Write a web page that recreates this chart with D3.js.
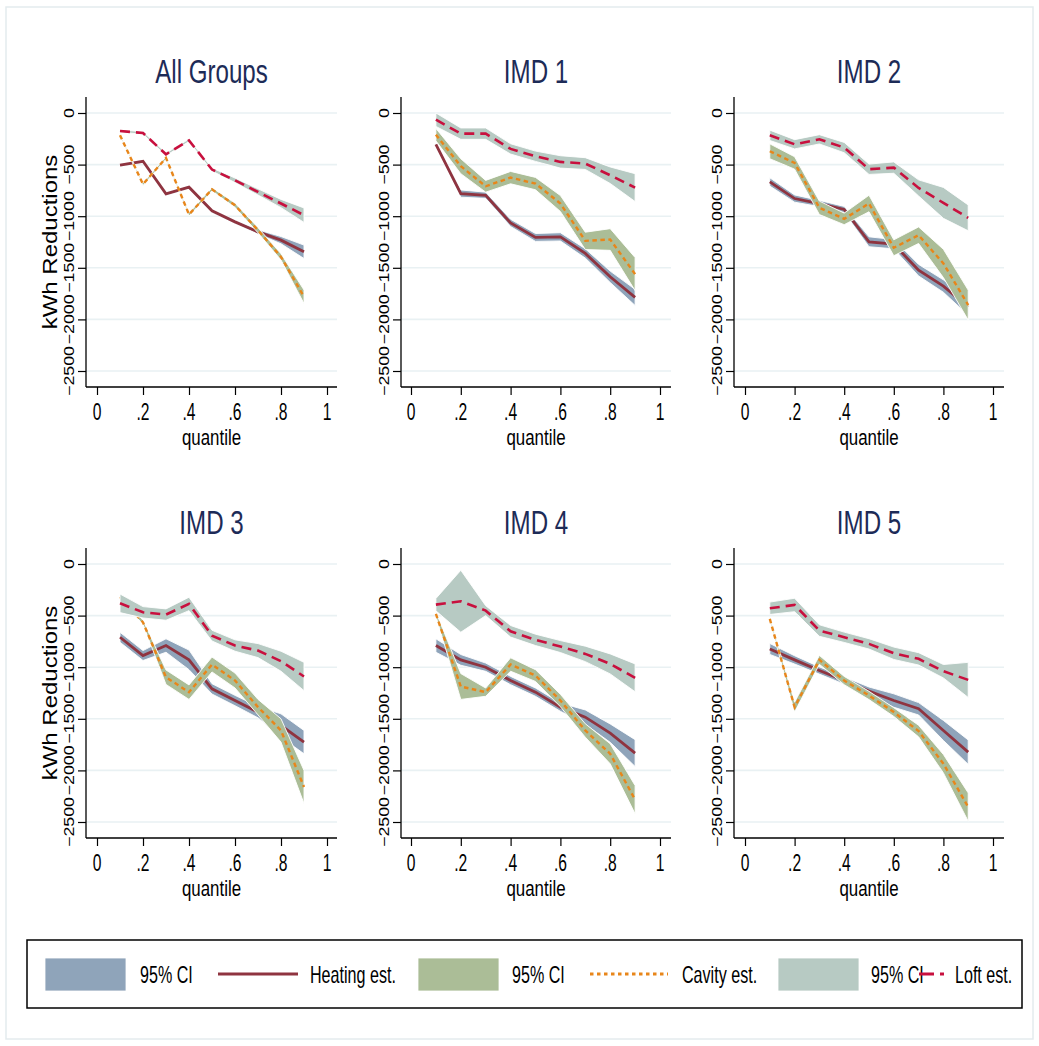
<!DOCTYPE html>
<html>
<head>
<meta charset="utf-8">
<script src="https://cdn.jsdelivr.net/npm/d3@7"></script>
<style>
  body { margin: 0; background: #fff; }
  text { font-family: "Liberation Sans", Arial, Helvetica, sans-serif; }
</style>
</head>
<body>
<svg id="chart" width="1039" height="1046"></svg>
<script>
// ---- data -------------------------------------------------------------
const quantiles = [0.1, 0.2, 0.3, 0.4, 0.5, 0.6, 0.7, 0.8, 0.9];
const panelTitles = ["All Groups", "IMD 1", "IMD 2", "IMD 3", "IMD 4", "IMD 5"];
const xTickValues = [0, 0.2, 0.4, 0.6, 0.8, 1];
const xTickLabels = ["0", ".2", ".4", ".6", ".8", "1"];
const yTickValues = [0, -500, -1000, -1500, -2000, -2500];
const yTickLabels = ["0", "\u2212500", "\u22121000", "\u22121500", "\u22122000", "\u22122500"];
const yTitle = "kWh Reductions";
const xTitle = "quantile";

// heating estimates and 95% CI half-widths, one row per panel
const heatingEst = [
  [-506, -468, -784, -719, -948, -1055, -1152, -1232, -1345],
  [-303, -781, -797, -1065, -1206, -1200, -1361, -1587, -1787],
  [-668, -829, -877, -935, -1248, -1271, -1523, -1677, -1880],
  [-710, -887, -790, -929, -1210, -1323, -1435, -1565, -1726],
  [-790, -929, -1000, -1129, -1242, -1387, -1484, -1639, -1832],
  [-823, -929, -1032, -1129, -1232, -1323, -1403, -1613, -1823]
];
const heatingHalfCI = [
  [12, 12, 15, 15, 15, 15, 20, 35, 65],
  [12, 35, 30, 35, 38, 40, 45, 55, 78],
  [40, 35, 30, 30, 48, 45, 56, 60, 80],
  [48, 48, 65, 95, 50, 50, 55, 113, 113],
  [65, 52, 40, 40, 40, 40, 70, 89, 130],
  [53, 40, 35, 35, 40, 65, 60, 97, 118]
];

// cavity estimates and 95% CI half-widths
const cavityEst = [
  [-216, -690, -435, -984, -739, -894, -1136, -1394, -1781],
  [-210, -516, -710, -626, -684, -877, -1239, -1226, -1561],
  [-371, -484, -919, -1026, -877, -1306, -1184, -1458, -1861],
  [-320, -565, -1097, -1242, -974, -1129, -1387, -1613, -2161],
  [-484, -1187, -1242, -974, -1081, -1323, -1613, -1839, -2284],
  [-532, -1387, -929, -1129, -1274, -1435, -1619, -1935, -2355]
];
const cavityHalfCI = [
  [10, 12, 12, 15, 15, 20, 25, 30, 65],
  [60, 72, 57, 60, 60, 77, 84, 105, 160],
  [72, 60, 65, 56, 80, 77, 80, 137, 145],
  [20, 20, 70, 70, 72, 72, 75, 113, 160],
  [20, 125, 40, 65, 57, 60, 65, 97, 137],
  [15, 48, 43, 40, 40, 42, 56, 89, 137]
];

// loft estimates and 95% CI half-widths
const loftEst = [
  [-174, -194, -400, -265, -548, -652, -765, -877, -990],
  [-65, -200, -200, -348, -419, -474, -490, -603, -723],
  [-216, -303, -255, -335, -545, -529, -726, -871, -1016],
  [-381, -468, -490, -387, -694, -790, -839, -942, -1090],
  [-394, -361, -452, -652, -735, -800, -871, -968, -1103],
  [-429, -397, -645, -710, -774, -865, -919, -1039, -1123]
];
const loftHalfCI = [
  [12, 12, 12, 12, 15, 22, 30, 40, 70],
  [65, 55, 55, 50, 50, 60, 57, 80, 135],
  [50, 45, 45, 50, 50, 55, 78, 150, 125],
  [90, 55, 55, 65, 52, 55, 68, 97, 137],
  [60, 300, 48, 56, 55, 58, 75, 97, 135],
  [60, 65, 56, 50, 50, 60, 60, 65, 170]
];

const legendLabels = ["95% CI", "Heating est.", "95% CI", "Cavity est.", "95% CI", "Loft est."];

// ---- styling ----------------------------------------------------------
const series = [
  { est: heatingEst, hw: heatingHalfCI, band: "#8fa4ba", line: "#8f3440", width: 2.8, dash: null },
  { est: cavityEst,  hw: cavityHalfCI,  band: "#abbd97", line: "#e8861a", width: 2.4, dash: "4.5,3.5" },
  { est: loftEst,    hw: loftHalfCI,    band: "#b7cac3", line: "#c8103e", width: 2.6, dash: "10,6" }
];
const titleColor = "#1d2b57";
const gridColor = "#e9f1f3";

// ---- layout -----------------------------------------------------------
const cols = [
  { axisL: 86,  axisR: 337,  x0: 97,  x1: 327 },
  { axisL: 401, axisR: 671,  x0: 411, x1: 660 },
  { axisL: 734, axisR: 1004, x0: 745, x1: 993 }
];
const rows = [
  { top: 97,  bottom: 387, y0: 113, y1: 371 },
  { top: 548, bottom: 838, y0: 564, y1: 822 }
];

const svg = d3.select("#chart");
svg.append("rect").attr("x", 0).attr("y", 0).attr("width", 1039).attr("height", 1046).attr("fill", "#fff");
svg.append("rect").attr("x", 6).attr("y", 7).attr("width", 1027).attr("height", 1032)
  .attr("fill", "none").attr("stroke", "#e4ebee").attr("stroke-width", 1.5);

// horizontal text drawn narrow, rotated text drawn thin across its width
function hText(g, x, y, str, size, sx, anchor, color) {
  return g.append("text")
    .attr("transform", `translate(${x},${y}) scale(${sx},1)`)
    .attr("text-anchor", anchor || "middle")
    .attr("font-size", size)
    .attr("fill", color || "#000")
    .text(str);
}
function vText(g, x, y, str, size, sx) {
  return g.append("text")
    .attr("transform", `translate(${x},${y}) scale(${sx},1) rotate(-90)`)
    .attr("text-anchor", "middle")
    .attr("font-size", size)
    .attr("fill", "#000")
    .text(str);
}

panelTitles.forEach((title, p) => {
  const c = cols[p % 3], r = rows[Math.floor(p / 3)];
  const x = d3.scaleLinear().domain([0, 1]).range([c.x0, c.x1]);
  const y = d3.scaleLinear().domain([0, -2500]).range([r.y0, r.y1]);
  const g = svg.append("g");

  // grid lines
  g.selectAll("line.grid").data(yTickValues).join("line")
    .attr("x1", c.axisL).attr("x2", c.axisR)
    .attr("y1", d => y(d)).attr("y2", d => y(d))
    .attr("stroke", gridColor).attr("stroke-width", 1.6);

  // bands and lines
  series.forEach(s => {
    const est = s.est[p], hw = s.hw[p];
    const pts = quantiles.map((q, i) => ({ q, v: est[i], lo: est[i] - hw[i], hi: est[i] + hw[i] }));
    g.append("path").datum(pts)
      .attr("d", d3.area().x(d => x(d.q)).y0(d => y(d.lo)).y1(d => y(d.hi)))
      .attr("fill", s.band).attr("stroke", "#fff").attr("stroke-width", 0.9);
    g.append("path").datum(pts)
      .attr("d", d3.line().x(d => x(d.q)).y(d => y(d.v)))
      .attr("fill", "none").attr("stroke", s.line).attr("stroke-width", s.width)
      .attr("stroke-dasharray", s.dash);
  });

  // axes
  const xAxis = d3.axisBottom(x).tickValues(xTickValues).tickSize(8).tickFormat("");
  const ax = g.append("g").attr("transform", `translate(0,${r.bottom})`).call(xAxis);
  ax.select(".domain").attr("d", `M${c.axisL},0H${c.axisR}`).attr("stroke-width", 1.3);
  ax.selectAll(".tick line").attr("stroke-width", 1.2);
  xTickValues.forEach((v, i) => hText(g, x(v), r.bottom + 33, xTickLabels[i], 23, 0.68));
  hText(g, (c.axisL + c.axisR) / 2, r.bottom + 58, xTitle, 22.5, 0.75);

  const yAxis = d3.axisLeft(y).tickValues(yTickValues).tickSize(8).tickFormat("");
  const ay = g.append("g").attr("transform", `translate(${c.axisL},0)`).call(yAxis);
  ay.select(".domain").attr("d", `M0,${r.top}V${r.bottom}`).attr("stroke-width", 1.3);
  ay.selectAll(".tick line").attr("stroke-width", 1.2);
  yTickValues.forEach((v, i) => vText(g, c.axisL - 12, y(v), yTickLabels[i], 17.8, 0.78));

  if (p % 3 === 0) vText(g, c.axisL - 29, (r.top + r.bottom) / 2, yTitle, 24, 0.85);

  hText(g, (c.axisL + c.axisR) / 2, r.top - 14, title, 34, 0.71, "middle", titleColor);
});

// ---- legend -----------------------------------------------------------
const lg = svg.append("g");
lg.append("rect").attr("x", 27).attr("y", 940).attr("width", 995).attr("height", 68)
  .attr("fill", "#fff").attr("stroke", "#000").attr("stroke-width", 1.5);
const swatchX = [45, 418, 778];
const keyX = [[218, 298], [590, 668], [919, 944]];
const ciTextX = [140, 512, 871];
const estTextX = [310, 682, 955];
const legendDash = [null, "3.5,3.5", "15,6"];
series.forEach((s, i) => {
  lg.append("rect").attr("x", swatchX[i]).attr("y", 958).attr("width", 81).attr("height", 33)
    .attr("fill", s.band).attr("stroke", "#fff").attr("stroke-width", 0.8);
  hText(lg, ciTextX[i], 983, legendLabels[2 * i], 23, 0.7, "start");
  lg.append("line").attr("x1", keyX[i][0]).attr("x2", keyX[i][1]).attr("y1", 974).attr("y2", 974)
    .attr("stroke", s.line).attr("stroke-width", i === 0 ? 3.2 : 2.8)
    .attr("stroke-dasharray", legendDash[i]);
  hText(lg, estTextX[i], 983, legendLabels[2 * i + 1], 23, 0.7, "start");
});
</script>
</body>
</html>
